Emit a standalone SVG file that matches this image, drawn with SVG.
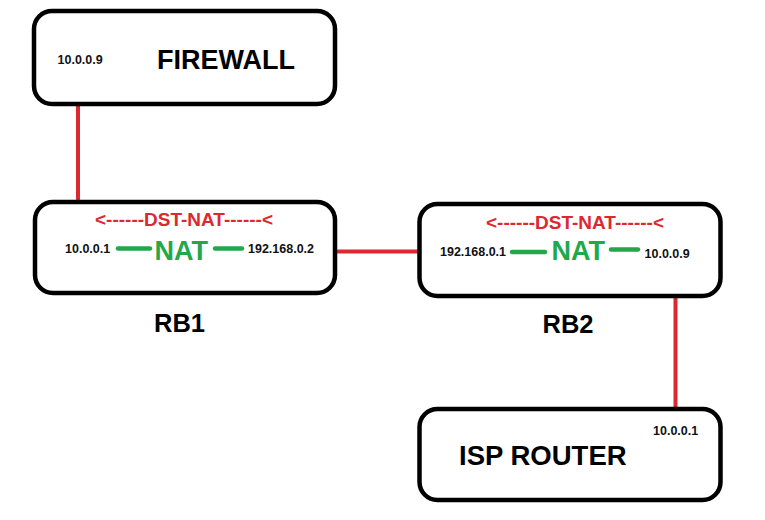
<svg xmlns="http://www.w3.org/2000/svg" width="765" height="520" viewBox="0 0 765 520">
<style>
.box{fill:#fff;stroke:#000;stroke-width:4.5}
.link{stroke:#dc2830;stroke-width:4;stroke-linecap:round;fill:none}
.nat{stroke:#22a84a;stroke-width:4.5;stroke-linecap:round}
text{font-family:"Liberation Sans",Arial,sans-serif;font-weight:bold}
.ip{font-size:12.5px;fill:#111}
.title{font-size:27px;fill:#000}
.dst{font-size:19px;fill:#dc2830}
.natt{font-size:27px;fill:#22a84a}
</style>
<rect width="765" height="520" fill="#fff"/>
<g id="connectors">
<line class="link" x1="78" y1="105" x2="78" y2="199"/>
<line class="link" x1="338" y1="251.5" x2="417" y2="251.5"/>
<line class="link" x1="675.5" y1="298" x2="675.5" y2="407"/>
</g>
<g id="firewall">
<rect class="box" x="34" y="11" width="301" height="93" rx="18"/>
<text class="ip" x="57.5" y="64">10.0.0.9</text>
<text class="title" x="157" y="69">FIREWALL</text>
</g>
<g id="rb1">
<rect class="box" x="35" y="202" width="300" height="91" rx="18"/>
<text class="dst" x="95" y="226">&lt;------DST-NAT------&lt;</text>
<text class="ip" x="65" y="253">10.0.0.1</text>
<line class="nat" x1="118" y1="248.5" x2="150" y2="248.5"/>
<text class="natt" x="154.5" y="260">NAT</text>
<line class="nat" x1="215" y1="248.5" x2="242" y2="248.5"/>
<text class="ip" x="248" y="253">192.168.0.2</text>
</g>
<g id="rb1-label"><text class="title" x="154" y="332" style="font-size:25.5px">RB1</text></g>
<g id="rb2">
<rect class="box" x="419.5" y="204" width="301" height="92" rx="18"/>
<text class="dst" x="486" y="229">&lt;------DST-NAT------&lt;</text>
<text class="ip" x="440" y="256">192.168.0.1</text>
<line class="nat" x1="512" y1="252" x2="545" y2="252"/>
<text class="natt" x="551.5" y="260">NAT</text>
<line class="nat" x1="611" y1="249.5" x2="638" y2="249.5"/>
<text class="ip" x="644.5" y="258">10.0.0.9</text>
</g>
<g id="rb2-label"><text class="title" x="542.5" y="333" style="font-size:25.5px">RB2</text></g>
<g id="isp-router">
<rect class="box" x="419.5" y="409" width="301" height="91" rx="18"/>
<text class="ip" x="653" y="435">10.0.0.1</text>
<text class="title" x="459" y="465" style="font-size:27.5px">ISP ROUTER</text>
</g>
</svg>
